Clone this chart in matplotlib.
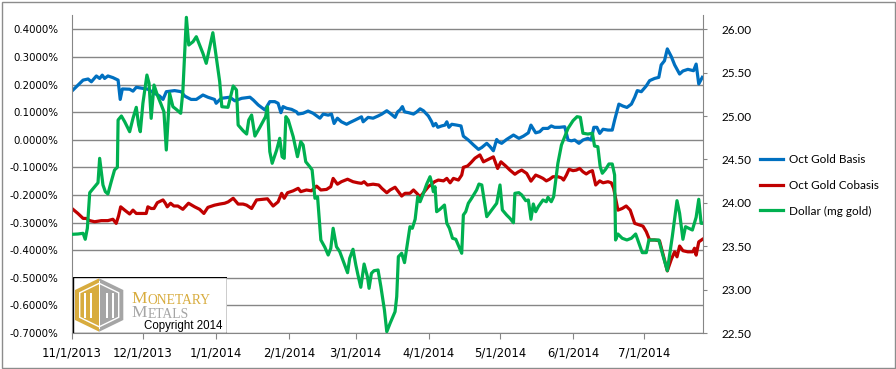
import datetime as dt
import numpy as np
import matplotlib
matplotlib.use("Agg")
import matplotlib.pyplot as plt
import matplotlib.dates as mdates
from matplotlib.patches import Polygon, Rectangle
from matplotlib.ticker import FuncFormatter

# Data (day offsets from 11/1/2013, basis/cobasis in %, dollar in mg gold)
basis_day = [0.4, 4.7, 6.8, 8.2, 10.3, 11.7, 12.8, 13.8, 15.2, 17.3, 19.5, 20.4, 21.3, 24.4, 25.8,
             27.2, 30.0, 32.1, 35.0, 37.1, 38.5, 39.9, 43.4, 46.2, 47.7, 50.4, 52.6, 55.4, 57.5, 60.3,
             61.0, 63.1, 66.8, 68.9, 71.8, 75.3, 76.7, 78.8, 81.6, 83.7, 85.8, 87.2, 88.4, 89.3, 90.8,
             92.9, 95.0, 95.7, 97.8, 99.9, 102.0, 104.9, 106.3, 108.4, 109.8, 110.9, 112.3, 114.0,
             116.2, 117.5, 119.7, 122.5, 123.2, 125.3, 127.4, 129.5, 131.1, 133.2, 134.6, 136.7,
             137.8, 138.8, 139.8, 140.7, 142.4, 144.5, 145.9, 147.3, 148.7, 150.8, 152.2, 152.9,
             153.9, 154.8, 156.4, 157.8, 158.6, 159.5, 160.7, 162.8, 164.6, 165.6, 167.7, 169.9,
             172.0, 173.4, 175.5, 176.9, 178.3, 179.7, 180.4, 181.8, 183.9, 186.8, 189.1, 191.0,
             193.1, 194.2, 196.2, 197.9, 199.3, 201.4, 202.8, 204.2, 206.3, 208.5, 209.9, 211.3,
             212.7, 214.5, 216.2, 218.3, 219.7, 220.8, 222.1, 223.3, 224.7, 226.8, 228.6, 229.6,
             231.4, 233.1, 234.8, 236.7, 238.1, 239.2, 240.9, 243.0, 244.4, 246.5, 248.3, 249.3,
             250.7, 251.9, 253.6, 255.0, 257.1, 258.5, 260.6, 263.0, 264.1, 265.2, 266.7]
basis = [0.180, 0.216, 0.220, 0.210, 0.231, 0.222, 0.234, 0.222, 0.231, 0.225, 0.216, 0.146, 0.184,
         0.183, 0.176, 0.190, 0.186, 0.183, 0.168, 0.158, 0.146, 0.174, 0.178, 0.174, 0.158, 0.146,
         0.146, 0.162, 0.154, 0.146, 0.132, 0.150, 0.154, 0.141, 0.150, 0.154, 0.144, 0.126, 0.108,
         0.138, 0.138, 0.132, 0.098, 0.120, 0.114, 0.110, 0.101, 0.093, 0.096, 0.104, 0.096, 0.078,
         0.093, 0.089, 0.093, 0.059, 0.078, 0.065, 0.056, 0.062, 0.071, 0.083, 0.065, 0.081, 0.078,
         0.086, 0.093, 0.105, 0.096, 0.081, 0.101, 0.108, 0.120, 0.101, 0.098, 0.093, 0.101, 0.112,
         0.105, 0.086, 0.065, 0.050, 0.059, 0.045, 0.050, 0.053, 0.065, 0.045, 0.056, 0.053, 0.050,
         0.013, -0.001, -0.019, -0.035, -0.028, -0.013, -0.025, -0.040, 0.001, -0.007, -0.013,
         0.001, 0.017, 0.005, 0.013, 0.025, 0.053, 0.025, 0.029, 0.041, 0.041, 0.050, 0.045, 0.045,
         0.047, -0.001, -0.004, -0.001, -0.013, -0.001, 0.005, -0.001, 0.045, 0.045, 0.023, 0.038,
         0.035, 0.035, 0.071, 0.129, 0.122, 0.117, 0.129, 0.154, 0.178, 0.174, 0.195, 0.214, 0.222,
         0.226, 0.271, 0.286, 0.329, 0.301, 0.271, 0.238, 0.249, 0.255, 0.250, 0.274, 0.202, 0.226]

cobasis_day = [0.4, 2.5, 4.7, 6.0, 7.5, 9.6, 12.4, 15.2, 17.3, 18.7, 19.7, 20.6, 22.3, 24.4, 25.8,
               27.2, 29.3, 31.4, 32.1, 33.5, 34.7, 36.1, 38.5, 39.5, 40.3, 41.7, 43.1, 44.8, 46.9,
               49.3, 51.9, 54.0, 55.8, 57.5, 60.3, 62.5, 64.6, 66.1, 68.2, 70.3, 72.4, 73.9, 76.0,
               78.1, 80.2, 82.7, 85.1, 87.2, 88.7, 89.8, 91.2, 93.6, 95.7, 96.8, 99.2, 101.3, 103.5,
               105.3, 107.7, 109.5, 110.5, 112.3, 114.0, 116.6, 118.9, 121.0, 122.5, 123.6, 125.0,
               127.4, 129.8, 131.1, 133.2, 134.6, 136.7, 138.1, 139.5, 140.9, 143.0, 144.5, 145.9,
               147.3, 148.7, 150.8, 152.2, 153.4, 155.0, 157.2, 158.6, 160.0, 161.4, 163.5, 164.9,
               165.6, 167.4, 168.8, 170.5, 172.6, 174.1, 176.2, 178.3, 180.1, 181.5, 183.5, 185.3,
               187.4, 188.9, 190.3, 192.4, 194.2, 196.2, 197.9, 199.3, 200.7, 202.1, 203.5, 205.6,
               207.1, 208.0, 209.2, 210.3, 212.0, 213.4, 214.8, 216.2, 217.6, 219.0, 220.2, 221.6,
               223.3, 224.7, 226.8, 228.2, 229.2, 231.0, 232.8, 234.5, 236.2, 238.1, 240.2, 241.6,
               243.0, 244.4, 246.5, 248.6, 250.0, 251.9, 253.6, 255.0, 256.0, 257.1, 258.5, 260.6,
               262.7, 263.4, 264.1, 265.2, 266.7]
cobasis = [-0.252, -0.267, -0.285, -0.285, -0.293, -0.297, -0.293, -0.293, -0.288, -0.303, -0.276,
           -0.243, -0.255, -0.269, -0.255, -0.267, -0.267, -0.267, -0.243, -0.249, -0.249, -0.228,
           -0.218, -0.230, -0.243, -0.230, -0.240, -0.240, -0.252, -0.230, -0.243, -0.252, -0.267,
           -0.245, -0.237, -0.233, -0.230, -0.225, -0.212, -0.233, -0.233, -0.237, -0.249, -0.218,
           -0.216, -0.214, -0.240, -0.225, -0.194, -0.212, -0.192, -0.185, -0.176, -0.188, -0.182,
           -0.185, -0.168, -0.182, -0.180, -0.170, -0.140, -0.161, -0.152, -0.143, -0.152, -0.156,
           -0.158, -0.152, -0.164, -0.161, -0.164, -0.176, -0.192, -0.182, -0.172, -0.188, -0.204,
           -0.194, -0.194, -0.182, -0.194, -0.207, -0.192, -0.170, -0.161, -0.152, -0.146, -0.149,
           -0.140, -0.156, -0.140, -0.146, -0.128, -0.100, -0.095, -0.083, -0.067, -0.055, -0.080,
           -0.071, -0.062, -0.104, -0.080, -0.095, -0.110, -0.125, -0.116, -0.110, -0.122, -0.150,
           -0.128, -0.134, -0.140, -0.149, -0.143, -0.134, -0.134, -0.138, -0.146, -0.128, -0.107,
           -0.112, -0.110, -0.104, -0.116, -0.124, -0.116, -0.112, -0.164, -0.149, -0.156, -0.152,
           -0.156, -0.176, -0.255, -0.249, -0.240, -0.255, -0.303, -0.309, -0.313, -0.333, -0.363,
           -0.363, -0.366, -0.412, -0.475, -0.433, -0.406, -0.424, -0.385, -0.402, -0.406, -0.406,
           -0.393, -0.418, -0.370, -0.361]

dollar_day = [0.4, 2.5, 4.7, 5.6, 6.5, 7.5, 9.6, 11.0, 11.7, 13.1, 14.1, 15.2, 16.6, 18.0, 19.2,
              19.5, 20.9, 22.3, 24.4, 25.8, 27.2, 28.2, 28.9, 30.0, 31.7, 32.6, 33.5, 34.7, 36.1,
              37.8, 38.9, 39.9, 41.3, 42.7, 44.1, 46.0, 46.9, 48.4, 49.4, 51.2, 52.6, 54.0, 55.4,
              56.8, 58.3, 59.6, 61.0, 62.5, 63.4, 66.0, 68.2, 69.6, 70.3, 72.4, 73.9, 74.8, 76.0,
              77.4, 79.5, 81.9, 82.7, 83.7, 84.7, 86.6, 87.9, 88.9, 89.8, 90.5, 91.5, 93.6, 95.4,
              96.8, 97.8, 98.9, 100.6, 101.6, 102.8, 103.9, 105.3, 107.0, 108.4, 109.5, 110.5,
              111.9, 113.3, 115.1, 116.6, 117.5, 118.9, 120.1, 121.0, 122.2, 123.6, 125.0, 125.7,
              126.7, 127.8, 129.5, 130.7, 132.2, 133.2, 134.6, 136.7, 137.4, 138.1, 139.5, 140.7,
              141.6, 143.0, 144.0, 145.2, 146.3, 147.3, 148.7, 150.1, 151.5, 152.2, 152.9, 153.6,
              154.3, 155.7, 157.6, 158.6, 159.7, 161.0, 162.4, 164.9, 165.6, 166.6, 167.7, 169.1,
              171.2, 172.2, 173.4, 175.5, 177.6, 179.7, 181.1, 182.1, 183.9, 185.3, 186.8, 187.4,
              189.1, 190.3, 192.0, 193.1, 194.2, 195.2, 196.2, 197.3, 199.3, 200.7, 201.4, 202.8,
              203.8, 205.6, 207.1, 208.5, 209.9, 212.0, 213.7, 215.1, 216.2, 218.3, 220.2, 221.1,
              222.5, 223.5, 224.4, 225.8, 227.2, 228.6, 229.6, 230.0, 231.0, 232.8, 234.8, 236.7,
              238.5, 239.9, 241.3, 243.0, 244.1, 245.8, 248.3, 250.0, 251.9, 254.0, 256.0, 257.1,
              258.5, 259.6, 261.0, 262.5, 264.1, 265.2, 266.2, 266.7]
dollar = [23.638, 23.641, 23.649, 23.580, 23.707, 24.117, 24.186, 24.232, 24.513, 24.206, 24.129,
          24.102, 24.244, 24.379, 24.410, 24.955, 25.001, 24.935, 24.820, 24.974, 25.101, 24.897,
          24.820, 25.147, 25.473, 25.378, 24.974, 25.358, 25.243, 25.128, 25.050, 24.609, 25.262,
          25.108, 25.078, 25.032, 25.281, 26.138, 25.819, 25.857, 25.915, 25.819, 25.723, 25.608,
          25.799, 25.961, 25.684, 25.396, 25.108, 25.101, 25.347, 25.301, 24.897, 24.831, 24.793,
          24.955, 25.012, 24.770, 24.871, 24.993, 25.108, 24.590, 24.456, 24.609, 24.744, 24.532,
          24.513, 24.993, 24.955, 24.762, 24.532, 24.705, 24.667, 24.474, 24.417, 24.379, 24.053,
          24.071, 23.572, 23.488, 23.399, 23.476, 23.707, 23.495, 23.437, 23.303, 23.195, 23.361,
          23.465, 23.284, 23.169, 23.027, 23.295, 23.149, 23.015, 23.188, 23.218, 23.226, 23.034,
          22.765, 22.515, 22.612, 22.746, 22.919, 23.380, 23.419, 23.311, 23.476, 23.725, 23.707,
          23.811, 24.071, 24.013, 24.110, 24.217, 24.301, 24.232, 24.129, 24.186, 23.898, 23.926,
          23.975, 23.764, 23.707, 23.592, 23.580, 23.419, 23.860, 23.898, 23.995, 24.053, 24.148,
          24.217, 24.206, 23.841, 23.918, 23.995, 24.206, 23.918, 23.860, 23.822, 23.771, 24.110,
          24.117, 24.091, 24.025, 24.033, 23.811, 23.987, 23.898, 23.956, 24.033, 24.013, 24.064,
          24.013, 24.071, 24.456, 24.667, 24.762, 24.859, 24.947, 24.993, 24.986, 24.802, 24.793,
          24.802, 24.655, 24.647, 24.417, 24.341, 24.387, 24.448, 24.448, 24.321, 23.572, 23.641,
          23.592, 23.572, 23.592, 23.641, 23.534, 23.426, 23.426, 23.572, 23.572, 23.572, 23.399,
          23.218, 23.610, 24.025, 23.880, 23.580, 23.725, 23.707, 23.687, 23.834, 24.041, 23.764,
          23.764]

labels = ["Oct Gold Basis", "Oct Gold Cobasis", "Dollar (mg gold)"]
colors = ["#0070C0", "#C00000", "#00B050"]
start = mdates.date2num(dt.datetime(2013, 11, 1))
end_day = 267

W, H = 896, 369
fig = plt.figure(figsize=(W / 100, H / 100), dpi=100)
ax = fig.add_axes([72 / W, (H - 333) / H, (703 - 72) / W, (333 - 15) / H])
ax2 = ax.twinx()

grid_c = "#868686"
l1, = ax.plot(start + np.array(basis_day), basis, color=colors[0], lw=2.3, solid_joinstyle="round")
l2, = ax.plot(start + np.array(cobasis_day), cobasis, color=colors[1], lw=2.3, solid_joinstyle="round")
l3, = ax2.plot(start + np.array(dollar_day), dollar, color=colors[2], lw=2.3, solid_joinstyle="round")

ax.set_xlim(start, start + end_day)
ax.set_ylim(-0.7, 0.4518)
ax2.set_ylim(22.5, 26.165)
ax.set_yticks(np.round(np.arange(-0.7, 0.41, 0.1), 1))
ax2.set_yticks(np.arange(22.5, 26.01, 0.5))
ax.yaxis.set_major_formatter(FuncFormatter(lambda v, p: "%.4f%%" % (round(v, 4) + 0.0)))
ax2.yaxis.set_major_formatter(FuncFormatter(lambda v, p: "%.2f" % v))
ax.xaxis.set_major_locator(mdates.MonthLocator(bymonthday=1))
ax.xaxis.set_major_formatter(FuncFormatter(
    lambda v, p: "%d/%d/%d" % (mdates.num2date(v).month, mdates.num2date(v).day, mdates.num2date(v).year)))

ax.grid(axis="y", color=grid_c, lw=1.0)
ax.set_axisbelow(True)
for a in (ax, ax2):
    for s in a.spines.values():
        s.set_visible(False)
ax.spines["left"].set_visible(True)
ax.spines["left"].set_color(grid_c)
ax.spines["bottom"].set_visible(True)
ax.spines["bottom"].set_color(grid_c)
ax2.spines["right"].set_visible(True)
ax2.spines["right"].set_color(grid_c)

ax.tick_params(axis="x", length=4, color=grid_c, labelsize=8.4, pad=6)
ax.tick_params(axis="y", length=0, labelsize=7.4, pad=10)
ax2.tick_params(axis="y", length=3, color=grid_c, pad=10)
for t in ax2.get_yticklabels():
    t.set_fontfamily("Lato")
    t.set_fontsize(8.5)

fig.legend([l1, l2, l3], labels, loc="upper left", bbox_to_anchor=(760 / W, 1 - 154 / H),
           frameon=False, prop={"family": "Lato", "size": 8.5}, handlelength=1.95,
           handletextpad=0.5, labelspacing=1.25, borderpad=0, borderaxespad=0)

# logo box
lg = fig.add_axes([72.7 / W, (H - 332.7) / H, 154 / W, 55.4 / H], zorder=5)
lg.set_xlim(0, 154)
lg.set_ylim(55.4, 0)
lg.axis("off")
lg.add_patch(Rectangle((0, 0), 154, 55.4, facecolor="white", edgecolor="black", lw=1.0))
gold, grey = "#D8AC3E", "#A5A5A5"
lg.add_patch(Polygon([(26.5, 1), (2.3, 12.7), (2.3, 42.7), (26.5, 54.4)], closed=True, fc=gold, ec="none"))
lg.add_patch(Polygon([(26.5, 1), (50.6, 12.7), (50.6, 42.7), (26.5, 54.4)], closed=True, fc=grey, ec="none"))
lg.add_patch(Polygon([(26.5, 6), (7, 15.5), (7, 40), (26.5, 49.5), (46, 40), (46, 15.5)], closed=True,
                     fc="none", ec="white", lw=1.0))
for bx in (11.5, 17.5, 33.5, 39.5):
    lg.add_patch(Rectangle((bx, 16), 2, 25, fc="white", ec="none"))
lg.add_patch(Rectangle((25.8, 4), 1.4, 48, fc="white", ec="none"))
t = lg.text(59, 25.5, "M", color=gold, family="Liberation Serif", fontsize=12.5, va="baseline")
lg.annotate("ONETARY", xy=(1, 0), xycoords=t, color=gold, family="Liberation Serif", fontsize=9.8,
            va="bottom")
t = lg.text(59, 40, "M", color=grey, family="Liberation Serif", fontsize=12.5, va="baseline")
lg.annotate("ETALS", xy=(1, 0), xycoords=t, color=grey, family="Liberation Serif", fontsize=9.8,
            va="bottom")
lg.text(149.5, 51.5, "Copyright 2014", color="black", family="Liberation Sans", fontsize=8.3,
        ha="right", va="baseline")

fig.add_artist(Rectangle((1.5 / W, 1.5 / H), (W - 3) / W, (H - 3) / H, transform=fig.transFigure,
                         fill=False, ec="#8C8C8C", lw=1.0))

fig.savefig("out.png", dpi=100)
